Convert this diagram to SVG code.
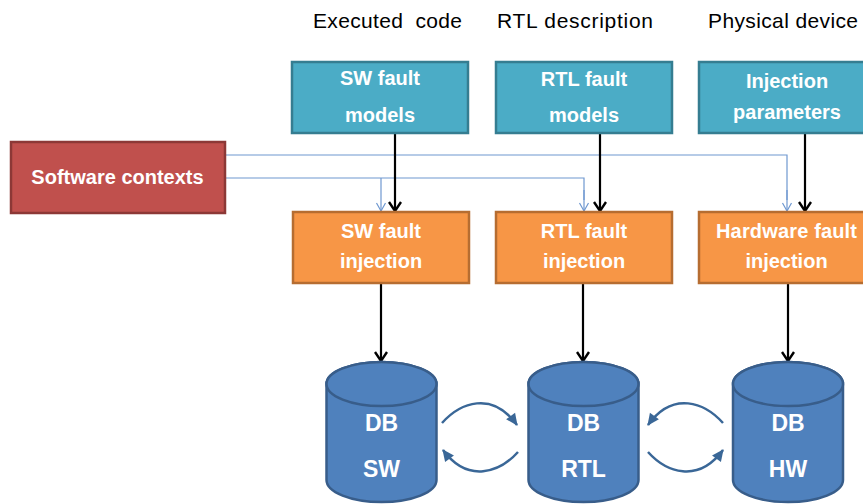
<svg xmlns="http://www.w3.org/2000/svg" width="863" height="504" viewBox="0 0 863 504">
<style>
.hdr{font-family:"Liberation Sans",Arial,sans-serif;font-size:21px;fill:#000;text-anchor:middle;white-space:pre}
.lbl{font-family:"Liberation Sans",Arial,sans-serif;font-size:20px;font-weight:bold;fill:#fff;text-anchor:middle}
.db{font-family:"Liberation Sans",Arial,sans-serif;font-size:23px;font-weight:bold;fill:#fff;text-anchor:middle}
.teal{fill:#4BACC6;stroke:#357D91;stroke-width:2.5}
.orange{fill:#F79646;stroke:#B66D31;stroke-width:2.5}
.red{fill:#C0504D;stroke:#8C3836;stroke-width:2.5}
.cyl{fill:#4F81BD;stroke:#385D8A;stroke-width:2.5}
.blk{fill:none;stroke:#000;stroke-width:2.2;marker-end:url(#ablk)}
.thin{fill:none;stroke:#6F98D0;stroke-width:1.2}
.thinA{fill:none;stroke:#6F98D0;stroke-width:1.2;marker-end:url(#athin)}
.curve{fill:none;stroke:#3A6797;stroke-width:2.5;marker-end:url(#acurve)}
</style>
<defs>
<marker id="ablk" markerUnits="userSpaceOnUse" markerWidth="16" markerHeight="16" viewBox="0 0 16 16" refX="14" refY="8" orient="auto">
<path d="M5,2 L14,8 L5,14" fill="none" stroke="#000" stroke-width="2.4"/>
</marker>
<marker id="athin" markerUnits="userSpaceOnUse" markerWidth="12" markerHeight="12" viewBox="0 0 12 12" refX="11" refY="6" orient="auto">
<path d="M3,1.5 L11,6 L3,10.5" fill="none" stroke="#6F98D0" stroke-width="1.2"/>
</marker>
<marker id="acurve" markerUnits="userSpaceOnUse" markerWidth="14" markerHeight="14" viewBox="0 0 14 14" refX="12" refY="7" orient="auto">
<path d="M1,1.5 L13,7 L1,12.5 Z" fill="#3A6797"/>
</marker>
</defs>

<g id="headers">
<text class="hdr" x="387.5" y="28" textLength="149" xml:space="preserve">Executed  code</text>
<text class="hdr" x="575" y="28" textLength="156">RTL description</text>
<text class="hdr" x="783" y="28" textLength="150">Physical device</text>
</g>

<g id="connectors">
<polyline class="thin" points="225,155 787,155 787,200"/>
<path class="thinA" d="M787,190 L787,211"/>
<polyline class="thin" points="225,178 584,178 584,200"/>
<path class="thinA" d="M584,190 L584,211"/>
<path class="thinA" d="M381,178 L381,211"/>
<path class="blk" d="M395,133 L395,211"/>
<path class="blk" d="M600,133 L600,211"/>
<path class="blk" d="M805,133 L805,211"/>
<path class="blk" d="M381,284 L381,361"/>
<path class="blk" d="M583,284 L583,361"/>
<path class="blk" d="M788,284 L788,361"/>
<path class="curve" d="M442,423 C460,403 492,390 517,425"/>
<path class="curve" d="M518,452 C500,472 468,484 443,450"/>
<path class="curve" d="M723,423 C705,403 673,390 648,425"/>
<path class="curve" d="M648,452 C666,472 698,484 723,450"/>
</g>

<g id="sw-contexts">
<rect class="red" x="11" y="142" width="214" height="71"/>
<text class="lbl" x="117.5" y="184">Software contexts</text>
</g>

<g id="sw-fault-models">
<rect class="teal" x="292" y="62" width="176" height="71"/>
<text class="lbl" x="380" y="85">SW fault</text>
<text class="lbl" x="380" y="122">models</text>
</g>
<g id="rtl-fault-models">
<rect class="teal" x="496" y="62" width="176" height="71"/>
<text class="lbl" x="584" y="86">RTL fault</text>
<text class="lbl" x="584" y="122">models</text>
</g>
<g id="injection-parameters">
<rect class="teal" x="699" y="62" width="176" height="71"/>
<text class="lbl" x="787" y="88">Injection</text>
<text class="lbl" x="787" y="119">parameters</text>
</g>

<g id="sw-fault-injection">
<rect class="orange" x="293" y="212" width="176" height="71"/>
<text class="lbl" x="381" y="238">SW fault</text>
<text class="lbl" x="381" y="268">injection</text>
</g>
<g id="rtl-fault-injection">
<rect class="orange" x="496" y="212" width="176" height="71"/>
<text class="lbl" x="584" y="238">RTL fault</text>
<text class="lbl" x="584" y="268">injection</text>
</g>
<g id="hw-fault-injection">
<rect class="orange" x="699" y="212" width="176" height="71"/>
<text class="lbl" x="786.5" y="238" textLength="141">Hardware fault</text>
<text class="lbl" x="786.5" y="268">injection</text>
</g>

<g id="db-sw">
<path class="cyl" d="M326.5,384 L326.5,480 A55,22 0 0 0 436.5,480 L436.5,384 A55,22 0 0 0 326.5,384 Z"/>
<ellipse class="cyl" cx="381.5" cy="384" rx="55" ry="22"/>
<text class="db" x="381.5" y="431">DB</text>
<text class="db" x="381.5" y="477">SW</text>
</g>
<g id="db-rtl">
<path class="cyl" d="M528.5,384 L528.5,480 A55,22 0 0 0 638.5,480 L638.5,384 A55,22 0 0 0 528.5,384 Z"/>
<ellipse class="cyl" cx="583.5" cy="384" rx="55" ry="22"/>
<text class="db" x="583.5" y="431">DB</text>
<text class="db" x="583.5" y="477">RTL</text>
</g>
<g id="db-hw">
<path class="cyl" d="M733,384 L733,480 A55,22 0 0 0 843,480 L843,384 A55,22 0 0 0 733,384 Z"/>
<ellipse class="cyl" cx="788" cy="384" rx="55" ry="22"/>
<text class="db" x="788" y="431">DB</text>
<text class="db" x="788" y="477">HW</text>
</g>
</svg>
